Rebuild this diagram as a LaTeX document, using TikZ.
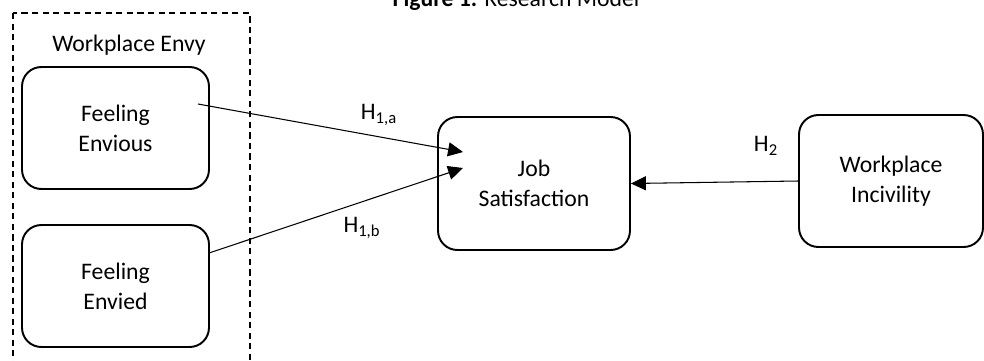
\documentclass[tikz,border=0pt]{standalone}
\usepackage{fontspec}
\setmainfont{Carlito}
\usetikzlibrary{arrows.meta}

\tikzset{
  construct/.style={draw, line width=1.1pt, rounded corners=11pt,
    align=center, inner sep=0pt},
  groupbox/.style={draw, line width=0.7pt, dash pattern=on 3.5pt off 2.5pt},
  hyp/.style={line width=0.6pt, -{Triangle[length=8.5pt,width=8pt]}},
  hyplabel/.style={inner sep=0pt},
}

\begin{document}
\begin{tikzpicture}[x=0.02cm, y=-0.02cm,
    every node/.style={font=\fontsize{13.5}{17}\selectfont}]
  \useasboundingbox (0,0) rectangle (984,360);
  % title (cut off by the page edge)
  \node[anchor=base] (title) at (516,6) {\textbf{Figure 1.} Research Model};
  % workplace envy group
  \draw[groupbox] (13,13) rectangle (250,400);
  \node (envy) at (129,45) {Workplace Envy};
  \node[construct, minimum width=3.74cm, minimum height=2.44cm]
    (envious) at (115.5,128) {Feeling\\Envious};
  \node[construct, minimum width=3.74cm, minimum height=2.44cm]
    (envied) at (115.5,286) {Feeling\\Envied};
  \node[construct, minimum width=3.84cm, minimum height=2.66cm]
    (jobsat) at (534,183.5) {Job\\Satisfaction};
  \node[construct, minimum width=3.68cm, minimum height=2.64cm]
    (incivility) at (891,181) {Workplace\\Incivility};
  % paths
  \coordinate (startA) at (198,104);
  \coordinate (startB) at (209,253);
  \coordinate (tipA) at (463,152);
  \coordinate (tipB) at (463,168);
  \draw[hyp] (startA) -- (tipA);
  \draw[hyp] (startB) -- (tipB);
  \draw[hyp] (incivility.west) -- (jobsat.east);
  \node[hyplabel] (h1a) at (379,115) {H\textsubscript{1,a}};
  \node[hyplabel] (h1b) at (362,228) {H\textsubscript{1,b}};
  \node[hyplabel] (h2) at (766,146) {H\textsubscript{2}};
\end{tikzpicture}
\end{document}
